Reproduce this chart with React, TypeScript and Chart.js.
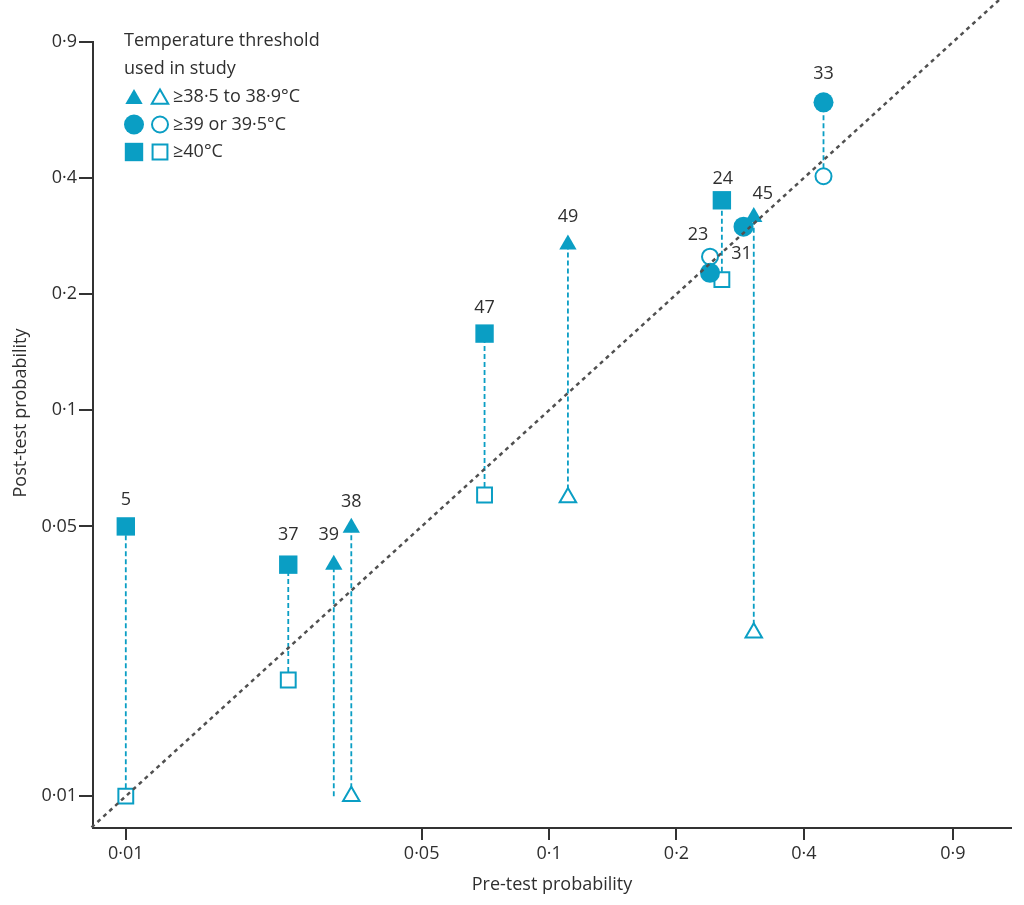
import React, { useEffect, useRef } from 'react';
import { Chart, registerables } from 'chart.js';
import { drawPoint } from 'chart.js/helpers';

Chart.register(...registerables);

// ---------------- data ----------------
const studyLabels = ['5', '37', '39', '38', '47', '49', '23', '24', '31', '45', '33'];
const thresholdMarker = ['rect', 'rect', 'triangle', 'triangle', 'rect', 'triangle', 'circle', 'rect', 'circle', 'triangle', 'circle'];
const preTestProbability = [0.01, 0.0242, 0.031, 0.0341, 0.0704, 0.1108, 0.24, 0.256, 0.288, 0.3045, 0.445];
const postTestPositive = [0.05, 0.0398, 0.0398, 0.0496, 0.158, 0.269, 0.227, 0.35, 0.299, 0.317, 0.628];
const postTestNegative = [0.01, 0.02, 0.01, 0.01, 0.0603, 0.0594, 0.25, 0.218, 0.299, 0.0265, 0.404];
const negativeMarkerShown = [true, true, false, true, true, true, true, true, true, true, true];

const xTickValues = [0.01, 0.05, 0.1, 0.2, 0.4, 0.9];
const xTickLabels = ['0·01', '0·05', '0·1', '0·2', '0·4', '0·9'];
const yTickValues = [0.01, 0.05, 0.1, 0.2, 0.4, 0.9];
const yTickLabels = ['0·01', '0·05', '0·1', '0·2', '0·4', '0·9'];
const axisRange = { xMin: 0.008366, xMax: 1.234, yMin: 0.00827, yMax: 0.9 };
const diagonalEnds = [0.0083, 1.6];

const legendTitle = ['Temperature threshold', 'used in study'];
const legendMarkers = ['triangle', 'circle', 'rect'];
const legendLabels = ['≥38·5 to 38·9°C', '≥39 or 39·5°C', '≥40°C'];
const xTitle = 'Pre-test probability';
const yTitle = 'Post-test probability';

// ---------------- styles ----------------
const TEAL = '#0a9ec4';
const TEXT = '#2f2f2f';
const AXIS = '#333333';
const FONT = '"Open Sans", "DejaVu Sans", sans-serif';
const filledRadius: Record<string, number> = { rect: 13, circle: 10, triangle: 10 };
const openRadius: Record<string, number> = { rect: 11.5, circle: 9, triangle: 10.5 };
// label offsets (dx, dy) from the positive-result marker
const labelOffsets: [number, number][] = [
  [0, -27], [0, -30], [-5, -30], [0, -26], [0, -26], [0, -28],
  [-12, -38], [1, -21], [-2, 27], [9, -23], [0, -28],
];

const overlayPlugin = {
  id: 'overlay',
  afterDraw(chart: any) {
    const ctx: CanvasRenderingContext2D = chart.ctx;
    const xs = chart.scales.x;
    const ys = chart.scales.y;
    ctx.save();
    // study labels
    ctx.font = `18px ${FONT}`;
    ctx.fillStyle = TEXT;
    ctx.textAlign = 'center';
    ctx.textBaseline = 'middle';
    studyLabels.forEach((lab, i) => {
      const px = xs.getPixelForValue(preTestProbability[i]);
      const py = ys.getPixelForValue(postTestPositive[i]);
      ctx.fillText(lab, px + labelOffsets[i][0], py + labelOffsets[i][1]);
    });
    // legend
    ctx.textAlign = 'left';
    ctx.font = `18px ${FONT}`;
    ctx.fillText(legendTitle[0], 124, 41);
    ctx.fillText(legendTitle[1], 124, 69);
    legendMarkers.forEach((m, i) => {
      const y = 97 + i * 27.5;
      ctx.fillStyle = TEAL;
      ctx.strokeStyle = TEAL;
      drawPoint(ctx, { pointStyle: m, radius: filledRadius[m], rotation: 0, borderWidth: 0 } as any, 134, y + (m === 'triangle' ? 2 : 0));
      ctx.fillStyle = '#ffffff';
      ctx.lineWidth = 2;
      drawPoint(ctx, { pointStyle: m, radius: openRadius[m] - 1, rotation: 0, borderWidth: 2 } as any, 160, y + (m === 'triangle' ? 2 : 0));
      ctx.fillStyle = TEXT;
      ctx.fillText(legendLabels[i], 173, y);
    });
    // axis titles
    ctx.textAlign = 'center';
    ctx.fillText(xTitle, (chart.chartArea.left + chart.chartArea.right) / 2, 885);
    ctx.translate(21, 413);
    ctx.rotate(-Math.PI / 2);
    ctx.fillText(yTitle, 0, 0);
    ctx.restore();
  },
};

export default function App() {
  const ref = useRef<HTMLCanvasElement>(null);
  useEffect(() => {
    if (!ref.current) return;
    const studySets = studyLabels.map((_, i) => {
      const m = thresholdMarker[i];
      return {
        type: 'line' as const,
        data: [
          { x: preTestProbability[i], y: postTestNegative[i] },
          { x: preTestProbability[i], y: postTestPositive[i] },
        ],
        borderColor: TEAL,
        borderWidth: 1.8,
        borderDash: [5, 3],
        pointStyle: [m, m],
        pointRadius: [negativeMarkerShown[i] ? openRadius[m] - 1 : 0, filledRadius[m]],
        pointBackgroundColor: ['#ffffff', TEAL],
        pointBorderColor: [TEAL, TEAL],
        pointBorderWidth: [2, 0],
        order: 1,
      };
    });
    const chart = new Chart(ref.current, {
      type: 'line',
      data: {
        datasets: [
          {
            data: [
              { x: diagonalEnds[0], y: diagonalEnds[0] },
              { x: diagonalEnds[1], y: diagonalEnds[1] },
            ],
            borderColor: '#505050',
            borderWidth: 2.5,
            borderDash: [4, 4],
            pointRadius: 0,
            clip: false as any,
            order: 0,
          },
          ...studySets,
        ] as any,
      },
      options: {
        responsive: false,
        animation: false,
        devicePixelRatio: 1,
        events: [],
        layout: { padding: { top: 42, right: 2, left: 0, bottom: 0 } },
        plugins: { legend: { display: false }, tooltip: { enabled: false }, title: { display: false } },
        scales: {
          x: {
            type: 'logarithmic',
            min: axisRange.xMin,
            max: axisRange.xMax,
            afterFit: (s: any) => { s.height = 77; s.paddingLeft = 0; s.paddingRight = 0; },
            afterBuildTicks: (s: any) => { s.ticks = xTickValues.map((v) => ({ value: v })); },
            ticks: {
              autoSkip: false,
              maxRotation: 0,
              padding: 3,
              color: TEXT,
              font: { family: FONT, size: 18 },
              callback: (_v: any, i: number) => xTickLabels[i],
            },
            grid: { drawOnChartArea: false, drawTicks: true, tickLength: 12, color: AXIS, lineWidth: 2 },
            border: { display: true, color: AXIS, width: 2 },
          },
          y: {
            type: 'logarithmic',
            min: axisRange.yMin,
            max: axisRange.yMax,
            afterFit: (s: any) => { s.width = 93; s.paddingTop = 0; s.paddingBottom = 0; },
            afterBuildTicks: (s: any) => { s.ticks = yTickValues.map((v) => ({ value: v })); },
            ticks: {
              autoSkip: false,
              padding: 2,
              color: TEXT,
              font: { family: FONT, size: 18 },
              callback: (_v: any, i: number) => yTickLabels[i],
            },
            grid: { drawOnChartArea: false, drawTicks: true, tickLength: 14, color: AXIS, lineWidth: 2 },
            border: { display: true, color: AXIS, width: 2 },
          },
        },
      },
      plugins: [overlayPlugin],
    });
    return () => chart.destroy();
  }, []);
  return (
    <div style={{ position: 'fixed', left: 0, top: 0, width: 1024, height: 905, background: '#fff' }}>
      <canvas ref={ref} width={1024} height={905} style={{ width: 1024, height: 905 }} />
    </div>
  );
}
